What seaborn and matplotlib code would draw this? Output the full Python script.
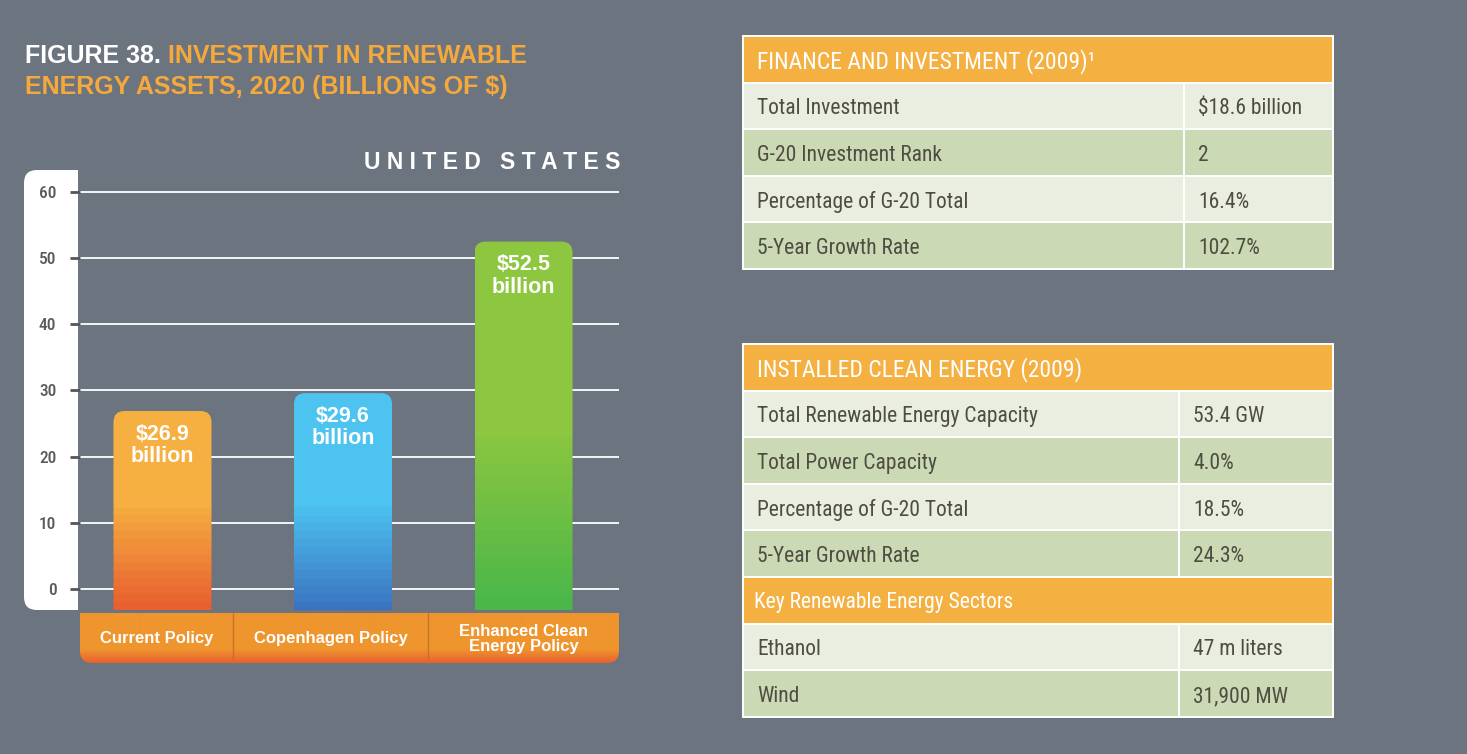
import numpy as np
import pandas as pd
import matplotlib
matplotlib.use("Agg")
import matplotlib.pyplot as plt
import seaborn as sns
from matplotlib.patches import FancyBboxPatch, Rectangle
from matplotlib import font_manager
from matplotlib.colors import to_rgb

# ---------------- data ----------------
categories = ["Current Policy", "Copenhagen Policy", "Enhanced Clean\nEnergy Policy"]
investment = [26.9, 29.6, 52.5]
bar_labels = ["$26.9\nbillion", "$29.6\nbillion", "$52.5\nbillion"]
y_ticks = [0, 10, 20, 30, 40, 50, 60]

finance_header = "FINANCE AND INVESTMENT (2009)\u00b9"
finance_items = ["Total Investment", "G-20 Investment Rank",
                 "Percentage of G-20 Total", "5-Year Growth Rate"]
finance_values = ["$18.6 billion", "2", "16.4%", "102.7%"]

installed_header = "INSTALLED CLEAN ENERGY (2009)"
installed_items = ["Total Renewable Energy Capacity", "Total Power Capacity",
                   "Percentage of G-20 Total", "5-Year Growth Rate"]
installed_values = ["53.4 GW", "4.0%", "18.5%", "24.3%"]
sectors_header = "Key Renewable Energy Sectors"
sector_items = ["Ethanol", "Wind"]
sector_values = ["47 m liters", "31,900 MW"]

# ---------------- style ----------------
W, H = 1467, 754
BG = "#6c7480"
ORANGE_T = "#f5a93b"
bar_top_colors = ["#f5b041", "#4dc3f0", "#8dc63f"]
bar_bottom_colors = ["#e85a2f", "#3a6fbe", "#46b64a"]
fade_levels = [13.5, 13.5, 25.0]
HEAD = "#f5b042"
LIGHT = "#eaeee0"
GREEN = "#cbd9b4"
TXT = "#4d4d42"

sns.set_theme(style="white")
available = {f.name for f in font_manager.fontManager.ttflist}
COND = "DejaVu Sans"
for cand in ["Roboto Condensed", "Liberation Sans Narrow", "Open Sans Condensed", "Roboto"]:
    if cand in available:
        COND = cand
        break
BOLD = "Liberation Sans" if "Liberation Sans" in available else "DejaVu Sans"
plt.rcParams["font.family"] = [BOLD, "DejaVu Sans"]

fig = plt.figure(figsize=(W / 100, H / 100), dpi=100, facecolor=BG)

# background / layout axes in pixel coordinates
bg = fig.add_axes([0, 0, 1, 1], zorder=0)
bg.set_xlim(0, W)
bg.set_ylim(H, 0)
bg.axis("off")

def px_axes(l, t, r, b):
    return [l / W, 1 - b / H, (r - l) / W, (b - t) / H]

# ---------------- title ----------------
t1 = bg.text(25, 63, "FIGURE 38. ", color="white", fontsize=18, fontweight="bold",
             family=[BOLD, "DejaVu Sans"], va="baseline", ha="left")
bg.annotate("INVESTMENT IN RENEWABLE", xy=(1, 0), xycoords=t1, va="bottom", ha="left",
            color=ORANGE_T, fontsize=18, fontweight="bold", family=[BOLD, "DejaVu Sans"])
bg.text(25, 94, "ENERGY ASSETS, 2020 (BILLIONS OF $)", color=ORANGE_T, fontsize=18,
        fontweight="bold", family=[BOLD, "DejaVu Sans"], va="baseline", ha="left")
bg.text(620, 169, "U N I T E D   S T A T E S", color="white", fontsize=16.5,
        fontweight="bold", family=[BOLD, "DejaVu Sans"], va="baseline", ha="right")

# white panel behind y tick labels
bg.add_patch(FancyBboxPatch((24, 170), 40, 440, boxstyle="round,pad=0,rounding_size=13",
                            facecolor="white", edgecolor="none"))
bg.add_patch(Rectangle((50, 170), 28, 440, facecolor="white", edgecolor="none"))

# ---------------- bar chart ----------------
AX_L, AX_T, AX_R, AX_B = 80, 170, 619, 610
ax = fig.add_axes(px_axes(AX_L, AX_T, AX_R, AX_B), zorder=2)
ax.patch.set_alpha(0)

df = pd.DataFrame({"policy": categories, "investment": investment})
sns.barplot(data=df, x="policy", y="investment", hue="policy",
            palette=bar_top_colors, legend=False, width=0.543, saturation=1, ax=ax)

XMIN, XMAX = -0.457, 2.529
YMIN, YMAX = -3.17, 63.32
ax.set_xlim(XMIN, XMAX)
ax.set_ylim(YMIN, YMAX)

xupp = (XMAX - XMIN) / (AX_R - AX_L)
yupp = (YMAX - YMIN) / (AX_B - AX_T)
aspect = yupp / xupp

bars = sorted(ax.patches, key=lambda p: p.get_x())
for p, top_c, bot_c, fade, lab in zip(bars, bar_top_colors, bar_bottom_colors,
                                      fade_levels, bar_labels):
    x0, w, top = p.get_x(), p.get_width(), p.get_height()
    p.set_visible(False)
    n = 400
    ys = np.linspace(YMIN, top, n)
    t = np.clip((fade - ys) / (fade - YMIN), 0, 1)
    t = np.floor(t * 14) / 14
    c = (1 - t)[:, None] * np.array(to_rgb(top_c)) + t[:, None] * np.array(to_rgb(bot_c))
    img = c[:, None, :]
    clip = FancyBboxPatch((x0, YMIN - 5), w, top - YMIN + 5,
                          boxstyle=f"round,pad=0,rounding_size={11 * xupp}",
                          mutation_aspect=aspect, transform=ax.transData,
                          facecolor="none", edgecolor="none")
    ax.add_patch(clip)
    im = ax.imshow(img, extent=(x0, x0 + w, YMIN, top), origin="lower",
                   aspect="auto", interpolation="nearest", zorder=3)
    im.set_clip_path(clip)
    ax.annotate(lab, xy=(x0 + w / 2, top), xytext=(0, -9), textcoords="offset points",
                ha="center", va="top", color="white", fontsize=15.5, fontweight="bold",
                linespacing=1.1, zorder=4)

ax.set_xlim(XMIN, XMAX)
ax.set_ylim(YMIN, YMAX)
ax.set_yticks(y_ticks)
ax.set_yticklabels([str(v) for v in y_ticks])
ax.yaxis.grid(True, color="white", linewidth=1.3)
ax.xaxis.grid(False)
ax.set_axisbelow(True)
ax.set_xticks([])
ax.set_xlabel("")
ax.set_ylabel("")
for s in ax.spines.values():
    s.set_visible(False)
ax.tick_params(axis="y", length=7, width=2, color="#555555", labelcolor="#5a5a5a",
               labelsize=12.5, pad=10, left=True)
for lbl in ax.get_yticklabels():
    lbl.set_family([COND, "DejaVu Sans"])
    lbl.set_fontweight("medium")

# ---------------- category band ----------------
B_L, B_R, B_T, B_B = 80, 619, 613, 663
band_clip = FancyBboxPatch((B_L, 600), B_R - B_L, B_B - 600,
                           boxstyle="round,pad=0,rounding_size=12",
                           facecolor="none", edgecolor="none")
bg.add_patch(band_clip)
ny = 100
yy = np.linspace(0, 1, ny)
tt = np.clip((yy - 0.72) / 0.28, 0, 1)
bc = (1 - tt)[:, None] * np.array(to_rgb("#ef952e")) + tt[:, None] * np.array(to_rgb("#e8612e"))
bim = bg.imshow(bc[:, None, :], extent=(B_L, B_R, B_B, B_T), origin="upper",
                aspect="auto", interpolation="bilinear", zorder=1)
bim.set_clip_path(band_clip)
sections = [80, 233, 428, 619]
for xs in sections[1:-1]:
    bg.plot([xs, xs], [B_T, B_B], color="#c4722a", lw=1, zorder=2)
for i, cat in enumerate(categories):
    cx = (sections[i] + sections[i + 1]) / 2
    bg.text(cx, (B_T + B_B) / 2 + 1, cat, ha="center", va="center", color="white",
            fontsize=12, fontweight="bold", linespacing=0.95, zorder=3)
bg.set_xlim(0, W)
bg.set_ylim(H, 0)

# ---------------- tables ----------------
T_L, T_R = 743, 1333
ROW_H = 46.6

def cell(x0, x1, y0, h, color):
    bg.add_patch(Rectangle((x0, y0), x1 - x0, h, facecolor=color,
                           edgecolor="white", linewidth=1.4, zorder=1))

def header_row(y0, text, size=17, pad=14):
    cell(T_L, T_R, y0, ROW_H, HEAD)
    bg.text(T_L + pad, y0 + ROW_H / 2 + 2, text, color="white", fontsize=size,
            family=[COND, "DejaVu Sans"], va="center", ha="left", zorder=2)

def body_rows(y0, items, values, div, start_light=True):
    for i, (it, val) in enumerate(zip(items, values)):
        yy0 = y0 + i * ROW_H
        color = LIGHT if (i % 2 == 0) == start_light else GREEN
        cell(T_L, div, yy0, ROW_H, color)
        cell(div, T_R, yy0, ROW_H, color)
        bg.text(T_L + 14, yy0 + ROW_H / 2 + 3, it, color=TXT, fontsize=15.5,
                family=[COND, "DejaVu Sans"], va="center", ha="left", zorder=2)
        bg.text(div + 14, yy0 + ROW_H / 2 + 3, val, color=TXT, fontsize=15.5,
                family=[COND, "DejaVu Sans"], va="center", ha="left", zorder=2)

# table 1
T1_TOP = 36
header_row(T1_TOP, finance_header)
body_rows(T1_TOP + ROW_H, finance_items, finance_values, 1184)

# table 2
T2_TOP = 344
header_row(T2_TOP, installed_header)
body_rows(T2_TOP + ROW_H, installed_items, installed_values, 1179)
sub_top = T2_TOP + ROW_H * (1 + len(installed_items))
header_row(sub_top, sectors_header, size=15.5, pad=11)
body_rows(sub_top + ROW_H, sector_items, sector_values, 1179)

fig.savefig("out.png", dpi=100, facecolor=BG)
